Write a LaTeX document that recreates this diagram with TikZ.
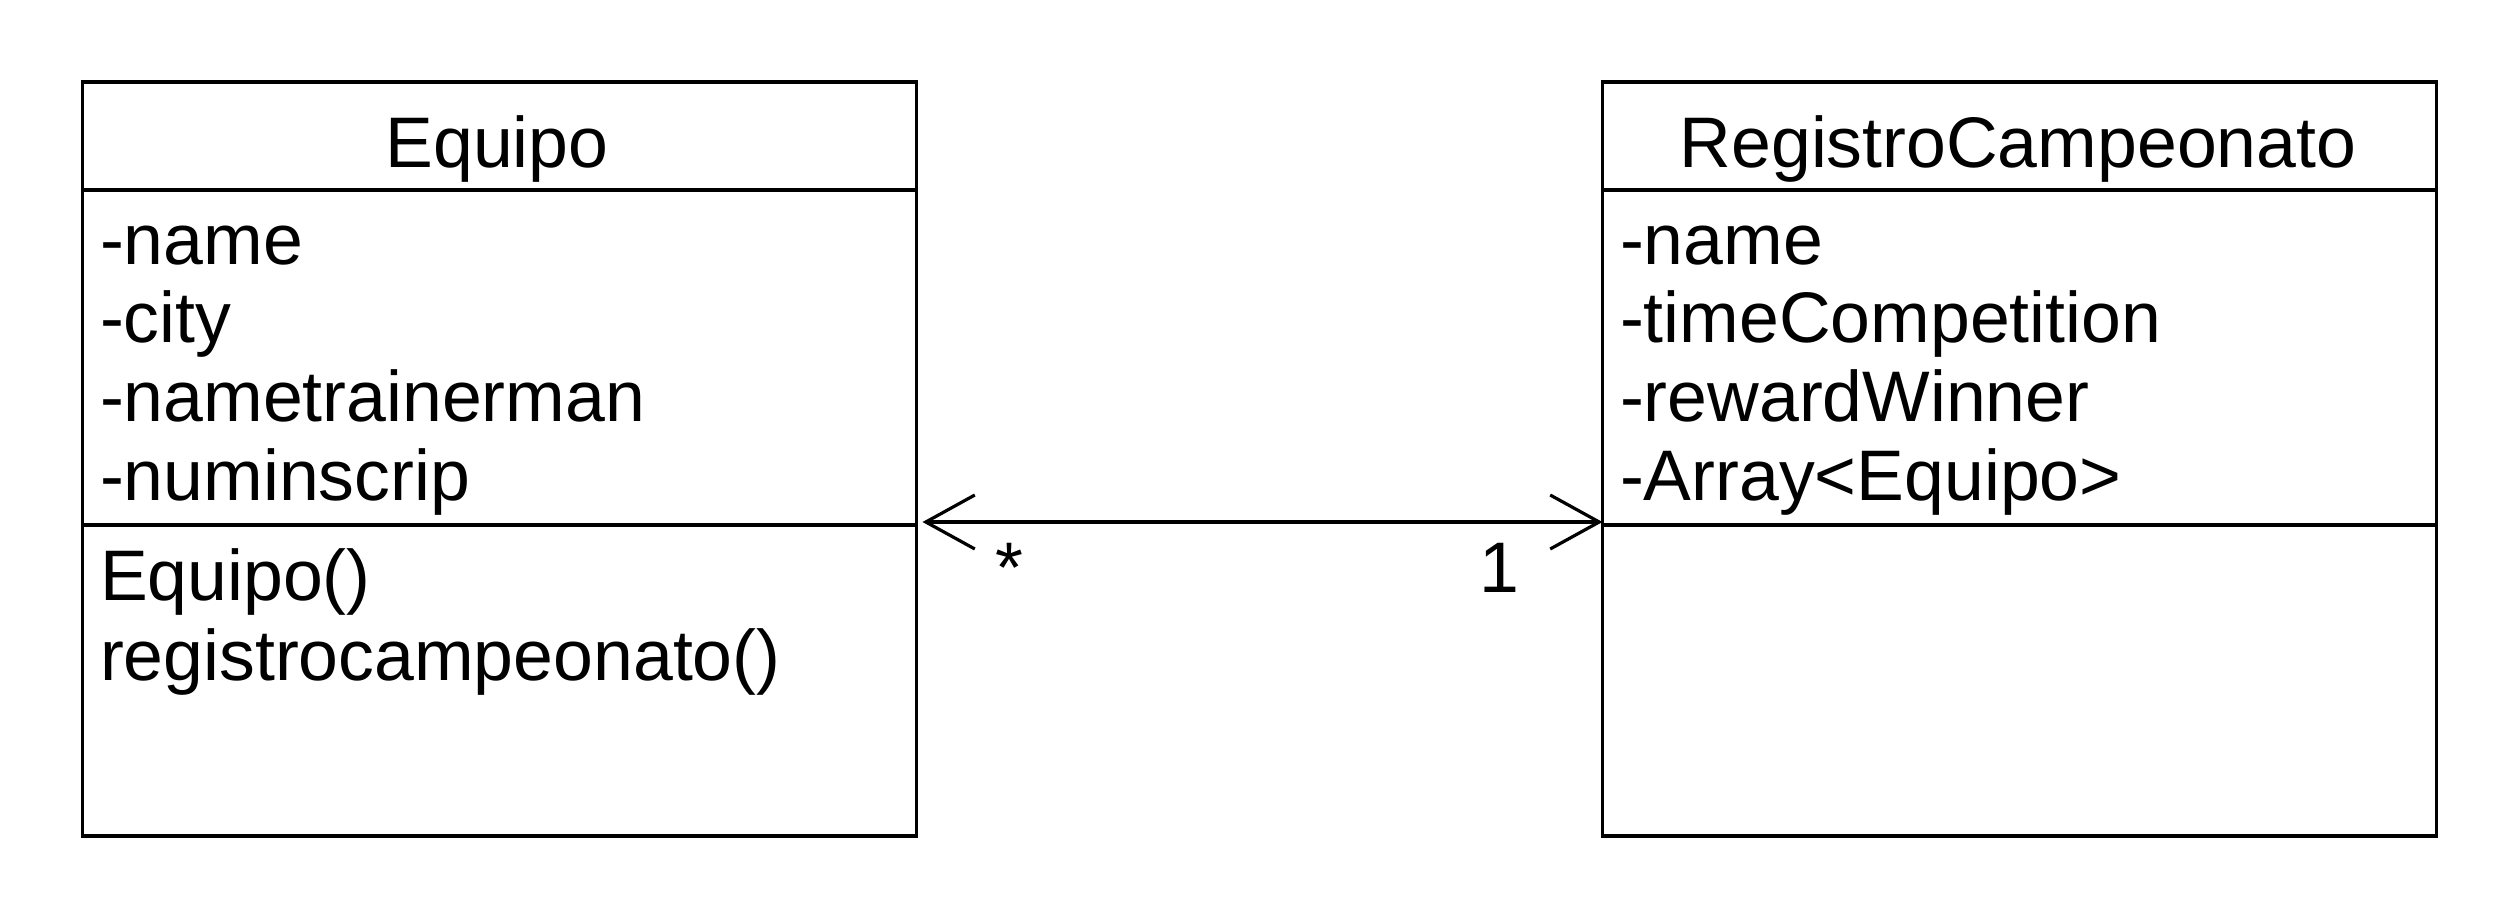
\documentclass[tikz,border=0pt]{standalone}
\usepackage{fontspec}
\setmainfont{Liberation Sans}
\usetikzlibrary{positioning}
\usetikzlibrary{arrows.meta}

\begin{document}
\begin{tikzpicture}[x=.5pt,y=-.5pt,every node/.style={inner sep=0,outer sep=0},
		comp/.style={draw,line width=1.6pt,minimum width=417pt},
		txt/.style={anchor=base west,font=\fontsize{35.8pt}{39pt}\selectfont},
		barb/.tip={Straight Barb[length=24.5pt,width=27pt]},
		assoc/.style={line width=1.6pt,barb-barb}]
				\useasboundingbox (0,0) rectangle (2520,920);
				% Equipo
				\node[comp,minimum height=54pt] (eqT) at (499.5,136) {};
				\node[comp,minimum height=167.5pt,below=0pt of eqT] (eqA) {};
				\node[comp,minimum height=155.5pt,below=0pt of eqA] (eqM) {};
				\node[txt,anchor=base] (eqName) at (497,167) {Equipo};
				\foreach \t [count=\i] in {-name,-city,-nametrainerman,-numinscrip}
					\node[txt] (eqa\i) at (100,{185.3+78.7*\i}) {\t};
				\foreach \t [count=\i] in {Equipo(),registrocampeonato()}
					\node[txt] (eqm\i) at (100,{520+80*\i}) {\t};
				% RegistroCampeonato
				\node[comp,minimum height=54pt] (rcT) at (2019.5,136) {};
				\node[comp,minimum height=167.5pt,below=0pt of rcT] (rcA) {};
				\node[comp,minimum height=155.5pt,below=0pt of rcA] (rcM) {};
				\node[txt,anchor=base] (rcName) at (2018,167) {RegistroCampeonato};
				\foreach \t [count=\i] in {-name,-timeCompetition,-rewardWinner,-Array<Equipo>}
					\node[txt] (rca\i) at (1620,{185.3+78.7*\i}) {\t};
				% association
				\draw[assoc,shorten <=3pt] ([yshift=1.5pt]eqA.south east) -- ([yshift=1.5pt]rcA.south west);
				\node[txt,anchor=base] (mStar) at (1009,592) {*};
				\node[txt,anchor=base] (mOne) at (1499,592) {1};
			\end{tikzpicture}
\end{document}
